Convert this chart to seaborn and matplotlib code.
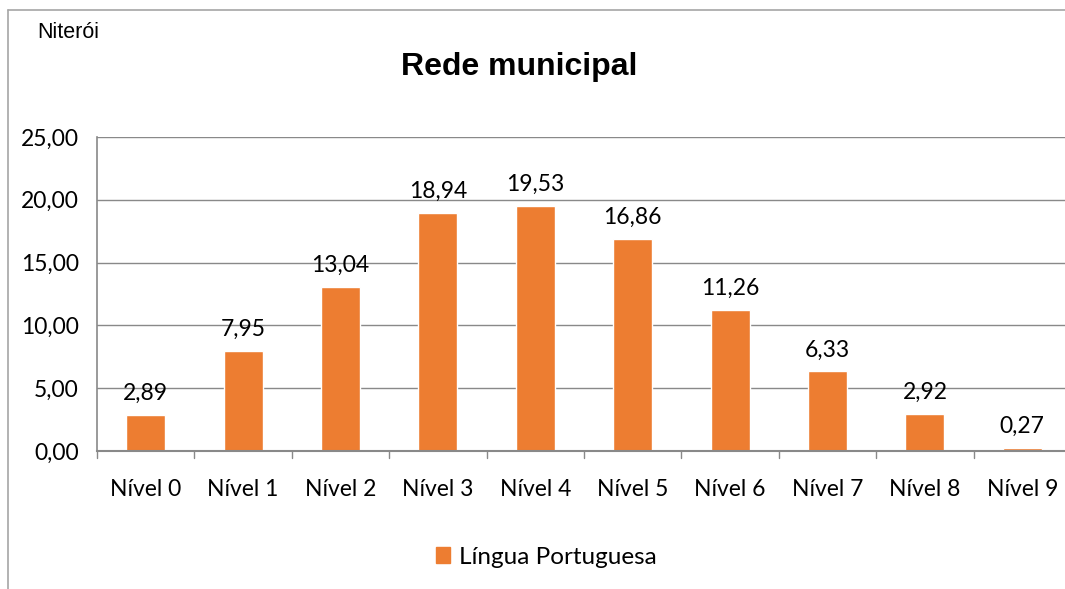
import matplotlib
matplotlib.use("Agg")
import matplotlib.pyplot as plt
import matplotlib.lines as mlines
import matplotlib.patches as mpatches
import seaborn as sns
import pandas as pd

# data
niveis = ["Nível 0", "Nível 1", "Nível 2", "Nível 3", "Nível 4",
          "Nível 5", "Nível 6", "Nível 7", "Nível 8", "Nível 9"]
percentuais = [2.89, 7.95, 13.04, 18.94, 19.53, 16.86, 11.26, 6.33, 2.92, 0.27]
serie = "Língua Portuguesa"
y_ticks = [0, 5, 10, 15, 20, 25]

laranja = "#ED7D31"
cinza = "#898989"
fs = 16.5

def br(v):
    return f"{v:.2f}".replace(".", ",")

df = pd.DataFrame({"nivel": niveis, "valor": percentuais})

sns.set_style("white")
plt.rcParams["text.color"] = "black"
fig = plt.figure(figsize=(10.65, 5.89), dpi=100)
ax = fig.add_axes([97 / 1065, 1 - 451 / 589, 974 / 1065, 314 / 589])

sns.barplot(data=df, x="nivel", y="valor", color=laranja, width=0.4,
            saturation=1, ax=ax)

ax.set_ylim(0, 25)
ax.set_xlim(-0.5, len(niveis) - 0.5)
ax.set_yticks(y_ticks)
ax.set_yticklabels([br(t) for t in y_ticks], fontsize=fs, family="Lato", color="black")
ax.set_xticks(range(len(niveis)))
ax.set_xticklabels(niveis, fontsize=fs, family="Lato", color="black")
ax.set_xlabel("")
ax.set_ylabel("")

# gridlines
for t in y_ticks:
    ax.axhline(t, color=cinza, lw=1.0, zorder=0)

for s in ["top", "right"]:
    ax.spines[s].set_visible(False)
ax.spines["left"].set_color(cinza)
ax.spines["bottom"].set_color(cinza)
ax.spines["left"].set_linewidth(1.2)
ax.spines["bottom"].set_linewidth(1.5)

ax.tick_params(axis="y", length=8, color=cinza, width=1, pad=5)
ax.tick_params(axis="x", length=0, pad=20)
# category boundary tick marks
for i in range(len(niveis) + 1):
    ax.plot([i - 0.5, i - 0.5], [0, -0.55], color=cinza, lw=1,
            clip_on=False, zorder=3)

for i, v in enumerate(percentuais):
    ax.annotate(br(v), (i, v), xytext=(0, 8), textcoords="offset points",
                ha="center", va="bottom", fontsize=fs, family="Lato",
                color="black")

# frame of the chart area (left and top lines)
fig.add_artist(mlines.Line2D([8 / 1065, 8 / 1065], [0, 1 - 10 / 589],
                             color="#a6a6a6", lw=1.2))
fig.add_artist(mlines.Line2D([8 / 1065, 1], [1 - 10 / 589, 1 - 10 / 589],
                             color="#a6a6a6", lw=1.2))

fig.text(37 / 1065, 1 - 32 / 589, "Niterói", fontsize=15.5,
         family="Liberation Sans", va="center", ha="left", color="black")
fig.text(519 / 1065, 1 - 67 / 589, "Rede municipal", fontsize=23,
         weight="bold", family="Liberation Sans", va="center", ha="center",
         color="black")

handle = mpatches.Patch(color=laranja, label=serie)
fig.legend(handles=[handle], loc="center", bbox_to_anchor=(546 / 1065, 1 - 557 / 589),
           frameon=False, prop={"family": "Lato", "size": 17.5},
           handlelength=0.6, handleheight=0.6, handletextpad=0.35)

fig.savefig("out.png", dpi=100)
